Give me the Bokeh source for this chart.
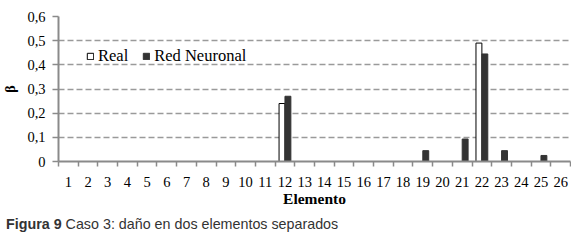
from bokeh.plotting import figure
from bokeh.layouts import column
from bokeh.models import (ColumnDataSource, Range1d, FixedTicker, Legend, LegendItem, Div)
from bokeh.transform import dodge
from bokeh.embed import file_html
from bokeh.resources import INLINE

# ---- data ----
elementos = list(range(1, 27))
real = [0, 0, 0, 0, 0, 0, 0, 0, 0, 0, 0, 0.24, 0, 0, 0, 0, 0, 0, 0, 0, 0, 0.49, 0, 0, 0, 0]
red_neuronal = [0, 0, 0, 0, 0, 0, 0, 0, 0, 0, 0, 0.27, 0, 0, 0, 0, 0, 0, 0.045, 0, 0.093, 0.445, 0.045, 0, 0.025, 0]
x_tick_labels = [str(e) for e in elementos]
y_ticks = [0, 0.1, 0.2, 0.3, 0.4, 0.5, 0.6]
y_tick_labels = ["0", "0,1", "0,2", "0,3", "0,4", "0,5", "0,6"]
series_names = ["Real", "Red Neuronal"]
x_title = "Elemento"
y_title = "β"
caption_bold = "Figura 9"
caption_text = "Caso 3: daño en dos elementos separados"

src = ColumnDataSource(dict(x=elementos, real=real, red=red_neuronal))

GRID = "#9a9a9a"
AXIS = "#8a8a8a"
SERIF = "serif"

p = figure(width=571, height=212, output_backend="svg", toolbar_location=None,
           x_range=Range1d(0.5, 26.5), y_range=Range1d(0, 0.6),
           min_border_left=54, min_border_right=1, min_border_top=16, min_border_bottom=51)
p.outline_line_color = None

r_real = p.vbar(x=dodge("x", -0.15, range=p.x_range), top="real", width=0.3, source=src,
                fill_color="white", line_color="black", line_width=1)
r_red = p.vbar(x=dodge("x", 0.15, range=p.x_range), top="red", width=0.3, source=src,
               fill_color="#333333", line_color="#333333", line_width=1)

p.xgrid.grid_line_color = None
p.ygrid.ticker = FixedTicker(ticks=y_ticks)
p.ygrid.grid_line_color = GRID
p.ygrid.grid_line_width = 1.5
p.ygrid.grid_line_dash = "6 3"

xa = p.xaxis[0]
xa.ticker = FixedTicker(ticks=elementos, minor_ticks=[e - 0.5 for e in elementos] + [26.5])
xa.major_label_overrides = dict(zip(elementos, x_tick_labels))
xa.major_tick_out = 0
xa.major_tick_in = 0
xa.minor_tick_out = 5
xa.minor_tick_in = 0
xa.minor_tick_line_color = AXIS
xa.minor_tick_line_width = 1.5
xa.axis_line_color = AXIS
xa.axis_line_width = 2
xa.major_label_text_font = SERIF
xa.major_label_text_font_size = "14.5px"
xa.major_label_text_color = "black"
xa.major_label_standoff = 10
xa.axis_label = x_title
xa.axis_label_text_font = "Liberation Serif"
xa.axis_label_text_font_style = "bold"
xa.axis_label_text_font_size = "15.5px"
xa.axis_label_text_color = "black"
xa.axis_label_standoff = 0

ya = p.yaxis[0]
ya.ticker = FixedTicker(ticks=y_ticks)
ya.major_label_overrides = dict(zip(y_ticks, y_tick_labels))
ya.major_tick_out = 6
ya.major_tick_in = 0
ya.minor_tick_out = 0
ya.minor_tick_in = 0
ya.major_tick_line_color = AXIS
ya.major_tick_line_width = 1.5
ya.axis_line_color = AXIS
ya.axis_line_width = 2
ya.major_label_text_font = SERIF
ya.major_label_text_font_size = "14.5px"
ya.major_label_text_color = "black"
ya.major_label_standoff = 7
ya.axis_label = y_title
ya.axis_label_text_font = "Liberation Serif"
ya.axis_label_text_font_style = "bold"
ya.axis_label_text_font_size = "14px"
ya.axis_label_text_color = "black"
ya.axis_label_standoff = 6

legend = Legend(items=[LegendItem(label=series_names[0], renderers=[r_real]),
                       LegendItem(label=series_names[1], renderers=[r_red])],
                orientation="horizontal", location=(28, 95),
                padding=0, margin=0, spacing=14, label_standoff=4,
                glyph_width=8, glyph_height=8, label_height=16,
                border_line_color=None, background_fill_alpha=0,
                label_text_font=SERIF, label_text_font_size="16.5px", label_text_color="black")
p.add_layout(legend, "center")

caption = Div(text=('<span style="font-family:\'Liberation Sans\',Arial,sans-serif;font-size:14.3px;'
                    'color:#333333;line-height:18px;white-space:nowrap">'
                    f'<b>{caption_bold}</b> {caption_text}</span>'),
              width=560, height=18, margin=(3, 0, 0, 6))

layout = column(p, caption, spacing=0)
open("out.html", "w").write(file_html(layout, INLINE))
